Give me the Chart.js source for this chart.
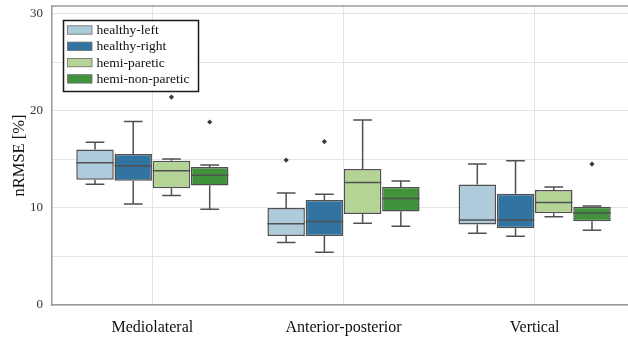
<!DOCTYPE html>
<html>
<head>
<meta charset="utf-8">
<script src="https://cdn.jsdelivr.net/npm/chart.js@4/dist/chart.umd.min.js"></script>
<style>
html,body{margin:0;padding:0;background:#fff;overflow:hidden;}
canvas{display:block;}
</style>
</head>
<body>
<canvas id="c" width="640" height="337"></canvas>
<script>
// ---- data ----
const categories = ['Mediolateral', 'Anterior-posterior', 'Vertical'];
const seriesNames = ['healthy-left', 'healthy-right', 'hemi-paretic', 'hemi-non-paretic'];
// per series, per category
const whiskerLow  = [[12.43, 6.43, 7.38], [10.40, 5.43, 7.08], [11.27, 8.41, 9.10], [9.86, 8.11, 7.69]];
const q1          = [[12.91, 7.11, 8.28], [12.81, 7.11, 7.90], [12.02, 9.37, 9.44], [12.30, 9.62, 8.62]];
const median      = [[14.66, 8.38, 8.75], [14.35, 8.59, 8.75], [13.84, 12.61, 10.55], [13.36, 10.96, 9.48]];
const q3          = [[16.03, 9.99, 12.40], [15.55, 10.81, 11.47], [14.87, 14.01, 11.84], [14.21, 12.15, 10.13]];
const whiskerHigh = [[16.76, 11.53, 14.52], [18.89, 11.40, 14.87], [15.04, 19.05, 12.15], [14.42, 12.77, 10.20]];
// outliers: [series index, category index, value]
const outliers = [[2, 0, 21.42], [3, 0, 18.85], [0, 1, 14.93], [1, 1, 16.83], [3, 2, 14.52]];
const yTickLabels = [0, 10, 20, 30];

// ---- styles ----
const colors = ['#aecbdc', '#3274a1', '#b3d495', '#40923b'];
const edge = '#505050';
const dodge = [-0.3, -0.1, 0.1, 0.3];
const serif = "'Liberation Serif', 'DejaVu Serif', serif";

const datasets = seriesNames.map((name, s) => ({
  type: 'bar',
  label: name,
  data: categories.map((_, c) => ({x: c + dodge[s], y: [q1[s][c], q3[s][c]]})),
  backgroundColor: colors[s],
  borderColor: edge,
  borderWidth: 1.5,
  borderSkipped: false,
  grouped: false,
  categoryPercentage: 1,
  barPercentage: 0.98,
  order: 2
}));
datasets.push({
  type: 'scatter',
  label: 'outliers',
  data: outliers.map(o => ({x: o[1] + dodge[o[0]], y: o[2]})),
  pointStyle: 'rectRot',
  radius: 2.6,
  backgroundColor: '#3a3a3a',
  borderColor: '#3a3a3a',
  borderWidth: 0,
  order: 0
});

const boxPlugin = {
  id: 'boxparts',
  afterDatasetsDraw(chart) {
    const ctx = chart.ctx, xs = chart.scales.x, ys = chart.scales.y;
    ctx.save();
    ctx.strokeStyle = edge;
    ctx.lineWidth = 1.5;
    seriesNames.forEach((_, s) => {
      const meta = chart.getDatasetMeta(s);
      categories.forEach((_, c) => {
        const bar = meta.data[c];
        const x = xs.getPixelForValue(c + dodge[s]);
        const w = bar.width;
        const yLo = ys.getPixelForValue(whiskerLow[s][c]);
        const yHi = ys.getPixelForValue(whiskerHigh[s][c]);
        const yQ1 = ys.getPixelForValue(q1[s][c]);
        const yQ3 = ys.getPixelForValue(q3[s][c]);
        const yMed = ys.getPixelForValue(median[s][c]);
        ctx.beginPath();
        ctx.moveTo(x, yQ3); ctx.lineTo(x, yHi);
        ctx.moveTo(x, yQ1); ctx.lineTo(x, yLo);
        ctx.moveTo(x - w / 4, yHi); ctx.lineTo(x + w / 4, yHi);
        ctx.moveTo(x - w / 4, yLo); ctx.lineTo(x + w / 4, yLo);
        ctx.moveTo(x - w / 2, yMed); ctx.lineTo(x + w / 2, yMed);
        ctx.stroke();
      });
    });
    ctx.restore();
  },
  afterDraw(chart) {
    const ctx = chart.ctx, a = chart.chartArea;
    ctx.save();
    // top frame line
    ctx.strokeStyle = '#9a9a9a';
    ctx.lineWidth = 1.5;
    ctx.beginPath();
    ctx.moveTo(a.left, a.top); ctx.lineTo(a.right, a.top);
    ctx.stroke();
    // legend
    const lx = 63.5, ly = 20.5, lw = 135, lh = 71;
    ctx.fillStyle = '#fff';
    ctx.fillRect(lx, ly, lw, lh);
    ctx.strokeStyle = '#1a1a1a';
    ctx.lineWidth = 1.5;
    ctx.strokeRect(lx, ly, lw, lh);
    ctx.font = "13.5px " + serif;
    ctx.textBaseline = 'middle';
    ctx.textAlign = 'left';
    seriesNames.forEach((name, s) => {
      const cy = 30 + s * 16.3;
      ctx.fillStyle = colors[s];
      ctx.fillRect(67.5, cy - 4.2, 24.5, 8.4);
      ctx.strokeStyle = '#6a6a6a';
      ctx.lineWidth = 0.8;
      ctx.strokeRect(67.5, cy - 4.2, 24.5, 8.4);
      ctx.fillStyle = '#111';
      ctx.fillText(name, 96.5, cy + 0.5);
    });
    ctx.restore();
  }
};

new Chart(document.getElementById('c'), {
  data: {datasets},
  options: {
    responsive: false,
    animation: false,
    devicePixelRatio: 1,
    layout: {padding: {top: 6, right: 5, bottom: 0, left: 0}},
    plugins: {legend: {display: false}, tooltip: {enabled: false}},
    scales: {
      x: {
        type: 'linear',
        offset: false,
        min: -0.525,
        max: 2.525,
        afterBuildTicks: s => { s.ticks = categories.map((_, i) => ({value: i})); },
        afterFit: s => { s.height = 32; s.paddingLeft = 0; s.paddingRight = 0; },
        ticks: {
          callback: v => categories[v] ?? '',
          font: {family: serif, size: 16},
          color: '#111',
          padding: 13,
          maxRotation: 0,
          autoSkip: false
        },
        grid: {color: '#e4e4e4', lineWidth: 1, drawTicks: false, offset: false},
        border: {display: true, color: '#9a9a9a', width: 1.5}
      },
      y: {
        type: 'linear',
        min: 0,
        max: 30.8,
        afterBuildTicks: s => { const t = []; for (let v = 0; v <= 30; v += 5) t.push({value: v}); s.ticks = t; },
        afterFit: s => { s.width = 52; s.paddingTop = 0; s.paddingBottom = 0; },
        ticks: {
          callback: v => yTickLabels.includes(v) ? String(v) : '',
          font: {family: serif, size: 13},
          color: '#333',
          padding: 9
        },
        grid: {color: '#e4e4e4', lineWidth: 1, drawTicks: false},
        border: {display: true, color: '#9a9a9a', width: 1.5},
        title: {
          display: true,
          text: 'nRMSE [%]',
          font: {family: serif, size: 16.5},
          color: '#111',
          padding: {top: 10, bottom: 0}
        }
      }
    }
  },
  plugins: [boxPlugin]
});
</script>
</body>
</html>
